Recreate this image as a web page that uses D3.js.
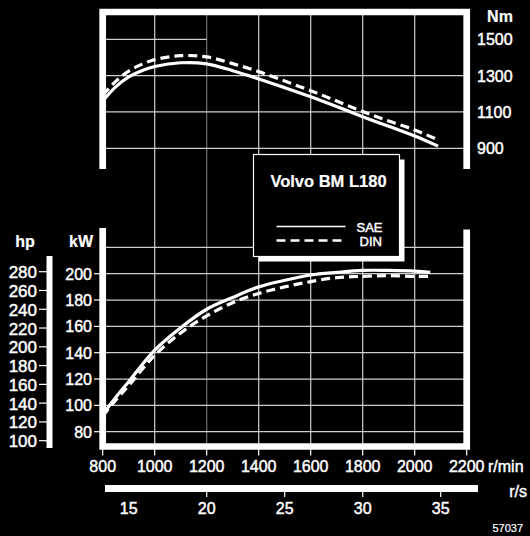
<!DOCTYPE html>
<html><head><meta charset="utf-8">
<script src="https://cdn.jsdelivr.net/npm/d3@7"></script>
<style>
html,body{margin:0;padding:0;background:#000;}
svg{display:block;}
text{font-family:"Liberation Sans",Arial,Helvetica,sans-serif;fill:#fff;stroke:#fff;stroke-width:0.45px;}
</style></head>
<body>
<script>
// ---- data ----
const rpmTicks = [800, 1000, 1200, 1400, 1600, 1800, 2000, 2200];
const rpsTicks = [15, 20, 25, 30, 35];
const torqueTicks = [900, 1100, 1300, 1500];
const kwTicks = [80, 100, 120, 140, 160, 180, 200];
const hpTicks = [100, 120, 140, 160, 180, 200, 220, 240, 260, 280];

const rpmTorque = [800, 850, 900, 950, 1000, 1100, 1200, 1300, 1400, 1500, 1600, 1700, 1800, 1900, 2000, 2090];
const torqueSAE = [1160, 1238, 1293, 1327, 1350, 1371, 1365, 1327, 1282, 1234, 1184, 1130, 1074, 1021, 968, 912];
const torqueDIN = [1192, 1268, 1325, 1362, 1388, 1410, 1403, 1366, 1322, 1270, 1217, 1160, 1102, 1050, 1001, 946];

const rpmPower = [800, 850, 900, 1000, 1100, 1200, 1300, 1400, 1500, 1600, 1700, 1800, 1900, 2000, 2060];
const powerSAE = [93, 106, 118, 142, 159, 173, 182, 190, 195, 199, 201, 202.5, 202.5, 202, 201];
const powerDIN = [92, 104, 115, 138, 155, 168, 178, 185, 190, 194, 197, 198, 198.5, 198, 198];

const legendItems = ["SAE", "DIN"];
const title = "Volvo BM L180";

// ---- layout ----
const W = 530, H = 536;
const svg = d3.select("body").append("svg").attr("width", W).attr("height", H);
svg.append("rect").attr("width", W).attr("height", H).attr("fill", "#000");

const x = d3.scaleLinear().domain([800, 2200]).range([102.7, 466.7]);
const yT = d3.scaleLinear().domain([900, 1500]).range([148.3, 39.3]);
const yP = d3.scaleLinear().domain([80, 200]).range([431.7, 273.7]);
const yH = d3.scaleLinear().domain([100, 280]).range([440.7, 271.7]);
const xs = d3.scaleLinear().domain([800 / 60, 2200 / 60]).range([102.7, 466.7]);

const topY = 12, topBottom = 169, botTop = 228, botY = 446.5;
const gridCol = "#cfcfcf";

const g = svg.append("g");
// vertical grid
rpmTicks.slice(1, -1).forEach(r => {
  g.append("line").attr("x1", x(r)).attr("x2", x(r)).attr("y1", topY).attr("y2", botY)
    .attr("stroke", gridCol).attr("stroke-width", 1.2)
    .attr("stroke-opacity", r === 1200 ? 0.55 : 1);
});
// torque horizontal grid
torqueTicks.forEach(t => {
  const xEnd = t === 1500 ? x(1200) : x(2200);
  g.append("line").attr("x1", x(800)).attr("x2", xEnd).attr("y1", yT(t)).attr("y2", yT(t))
    .attr("stroke", gridCol).attr("stroke-width", 1.2);
});
// power horizontal grid
kwTicks.concat([220]).forEach(k => {
  g.append("line").attr("x1", x(800)).attr("x2", x(2200)).attr("y1", yP(k)).attr("y2", yP(k))
    .attr("stroke", gridCol).attr("stroke-width", 1.2);
});

// frames
svg.append("path")
  .attr("d", `M${x(800)},${topBottom}V${topY}H${x(2200)}V${topBottom}`)
  .attr("fill", "none").attr("stroke", "#fff").attr("stroke-width", 6.7);
svg.append("path")
  .attr("d", `M${x(800)},${botTop}V${botY}H${x(2200)}V${botTop + 1.5}`)
  .attr("fill", "none").attr("stroke", "#fff").attr("stroke-width", 6.7);

// curves
const curve = d3.curveCatmullRom.alpha(0.5);
const lineT = d3.line().x((d, i) => x(rpmTorque[i])).y(d => yT(d)).curve(curve);
const lineP = d3.line().x((d, i) => x(rpmPower[i])).y(d => yP(d)).curve(curve);
svg.append("path").attr("d", lineT(torqueSAE)).attr("fill", "none").attr("stroke", "#fff").attr("stroke-width", 3.2);
svg.append("path").attr("d", lineT(torqueDIN)).attr("fill", "none").attr("stroke", "#fff").attr("stroke-width", 3.2).attr("stroke-dasharray", "9,5");
svg.append("path").attr("d", lineP(powerSAE)).attr("fill", "none").attr("stroke", "#fff").attr("stroke-width", 3.2);
svg.append("path").attr("d", lineP(powerDIN)).attr("fill", "none").attr("stroke", "#fff").attr("stroke-width", 3.2).attr("stroke-dasharray", "9,5");

// legend box
const lb = {x: 253.5, y: 154.5, w: 146, h: 102};
svg.append("rect").attr("x", lb.x + 5).attr("y", lb.y + 5).attr("width", lb.w).attr("height", lb.h).attr("fill", "#fff");
svg.append("rect").attr("x", lb.x).attr("y", lb.y).attr("width", lb.w).attr("height", lb.h)
  .attr("fill", "#000").attr("stroke", "#fff").attr("stroke-width", 1.2);
svg.append("text").attr("x", lb.x + 75).attr("y", lb.y + 32).attr("text-anchor", "middle")
  .attr("font-size", 16.5).attr("font-weight", "bold").style("stroke-width", "0.2px").text(title);
legendItems.forEach((name, i) => {
  const yy = lb.y + 72 + i * 14;
  svg.append("line").attr("x1", lb.x + 23).attr("x2", lb.x + (i ? 88 : 92)).attr("y1", yy).attr("y2", yy)
    .attr("stroke", "#fff").attr("stroke-width", i ? 2.6 : 1.6).attr("stroke-dasharray", i ? "9,5" : null);
  svg.append("text").attr("x", lb.x + 103 + (i ? 3 : 0)).attr("y", yy + 5).attr("font-size", 13).text(name);
});

// x axis (rpm)
rpmTicks.forEach(r => {
  svg.append("line").attr("x1", x(r)).attr("x2", x(r)).attr("y1", botY + 3).attr("y2", botY + 9)
    .attr("stroke", "#fff").attr("stroke-width", 1.2);
  svg.append("text").attr("x", x(r)).attr("y", 472).attr("text-anchor", "middle")
    .attr("font-size", 16).text(r);
});
svg.append("text").attr("x", 488).attr("y", 472).attr("font-size", 16).text("r/min");

// r/s bar
svg.append("rect").attr("x", 105).attr("y", 485).attr("width", 373).attr("height", 7).attr("fill", "#fff");
rpsTicks.forEach(s => {
  if (s > 15) svg.append("line").attr("x1", xs(s)).attr("x2", xs(s)).attr("y1", 492).attr("y2", 497)
    .attr("stroke", "#fff").attr("stroke-width", 1.2);
  svg.append("text").attr("x", xs(s)).attr("y", 514).attr("text-anchor", "middle")
    .attr("font-size", 16).text(s);
});
svg.append("text").attr("x", 527).attr("y", 497).attr("text-anchor", "end").attr("font-size", 16).text("r/s");
svg.append("text").attr("x", 523).attr("y", 532).attr("text-anchor", "end").attr("font-size", 11).style("stroke-width", "0.2px").text("57037");

// torque axis labels
torqueTicks.forEach(t => {
  svg.append("text").attr("x", 477).attr("y", yT(t) + 6).attr("font-size", 16).text(t);
});
svg.append("text").attr("x", 500).attr("y", 22).attr("text-anchor", "middle")
  .attr("font-size", 16).attr("font-weight", "bold").style("stroke-width", "0.2px").text("Nm");

// kW axis
kwTicks.forEach(k => {
  svg.append("line").attr("x1", 94).attr("x2", 100).attr("y1", yP(k)).attr("y2", yP(k))
    .attr("stroke", "#fff").attr("stroke-width", 1.2);
  svg.append("text").attr("x", 92).attr("y", yP(k) + 6).attr("text-anchor", "end")
    .attr("font-size", 16).text(k);
});
svg.append("text").attr("x", 81).attr("y", 247).attr("text-anchor", "middle")
  .attr("font-size", 16).attr("font-weight", "bold").style("stroke-width", "0.2px").text("kW");

// hp axis
svg.append("rect").attr("x", 46.5).attr("y", 256).attr("width", 6).attr("height", 192).attr("fill", "#fff");
hpTicks.forEach(h => {
  svg.append("line").attr("x1", 39).attr("x2", 47).attr("y1", yH(h)).attr("y2", yH(h))
    .attr("stroke", "#fff").attr("stroke-width", 1.2);
  svg.append("text").attr("x", 37).attr("y", yH(h) + 6.5).attr("text-anchor", "end")
    .attr("font-size", 17).text(h);
});
svg.append("text").attr("x", 25).attr("y", 247).attr("text-anchor", "middle")
  .attr("font-size", 16).attr("font-weight", "bold").style("stroke-width", "0.2px").text("hp");
</script>
</body></html>
